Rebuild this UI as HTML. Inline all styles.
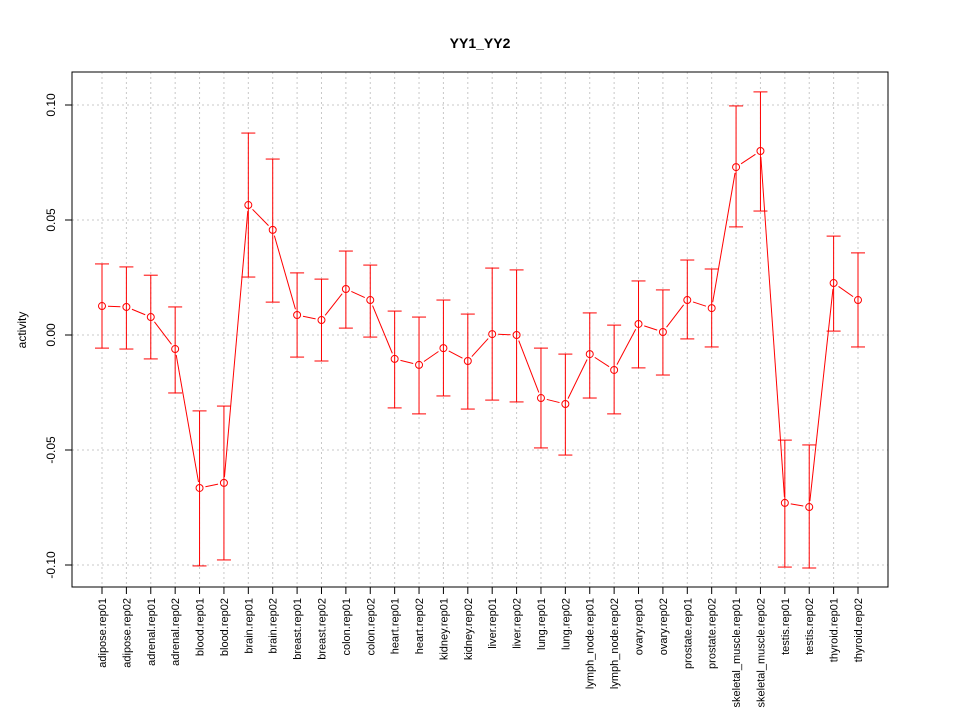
<!DOCTYPE html>
<html><head><meta charset="utf-8"><style>
body{margin:0;background:#fff;}
svg{display:block;font-family:"Liberation Sans",sans-serif;}
</style></head><body>
<svg id="chart" width="960" height="720">
<text x="480" y="48" text-anchor="middle" font-size="14" font-weight="bold">YY1_YY2</text>
<text transform="translate(26,330) rotate(-90)" text-anchor="middle" font-size="12">activity</text>
<g id="grid"></g><g id="axes"></g><g id="marks"></g>
<rect x="72" y="72" width="816" height="515" fill="none" stroke="#000" stroke-width="1"/>
</svg>
<script>
const categories=["adipose.rep01","adipose.rep02","adrenal.rep01","adrenal.rep02","blood.rep01","blood.rep02","brain.rep01","brain.rep02","breast.rep01","breast.rep02","colon.rep01","colon.rep02","heart.rep01","heart.rep02","kidney.rep01","kidney.rep02","liver.rep01","liver.rep02","lung.rep01","lung.rep02","lymph_node.rep01","lymph_node.rep02","ovary.rep01","ovary.rep02","prostate.rep01","prostate.rep02","skeletal_muscle.rep01","skeletal_muscle.rep02","testis.rep01","testis.rep02","thyroid.rep01","thyroid.rep02"];
const values=[0.0126,0.0122,0.0078,-0.0061,-0.0665,-0.0643,0.0565,0.0457,0.0087,0.0065,0.0200,0.0152,-0.0104,-0.0130,-0.0057,-0.0113,0.0004,0.0000,-0.0274,-0.0300,-0.0083,-0.0152,0.0048,0.0013,0.0152,0.0117,0.0730,0.0800,-0.0730,-0.0748,0.0226,0.0152];
const upper=[0.0309,0.0296,0.0260,0.0122,-0.0330,-0.0309,0.0878,0.0765,0.0270,0.0243,0.0365,0.0304,0.0104,0.0078,0.0152,0.0091,0.0291,0.0283,-0.0057,-0.0083,0.0096,0.0043,0.0235,0.0196,0.0326,0.0287,0.0996,0.1057,-0.0457,-0.0478,0.0430,0.0357];
const lower=[-0.0057,-0.0061,-0.0104,-0.0252,-0.1004,-0.0978,0.0252,0.0143,-0.0096,-0.0113,0.0030,-0.0009,-0.0317,-0.0343,-0.0265,-0.0322,-0.0283,-0.0291,-0.0491,-0.0522,-0.0274,-0.0343,-0.0143,-0.0174,-0.0017,-0.0052,0.0470,0.0539,-0.1009,-0.1013,0.0017,-0.0052];
const yTicks=[-0.10,-0.05,0.00,0.05,0.10];
const yTickLabels=["-0.10","-0.05","0.00","0.05","0.10"];
const NS="http://www.w3.org/2000/svg";
function y(v){return 335-2300*v;}
function x(i){return 102+i*(756/(categories.length-1));}
function mk(tag,attrs,parent){const e=document.createElementNS(NS,tag);for(const k in attrs)e.setAttribute(k,attrs[k]);parent.appendChild(e);return e;}
const grid=document.getElementById('grid'),axes=document.getElementById('axes'),marks=document.getElementById('marks');
yTicks.forEach((t,k)=>{
 const g=mk('line',{x1:72,x2:888,y1:y(t),y2:y(t),stroke:'#c8c8c8','stroke-dasharray':'2,3'},grid);
 
 
 const tk=mk('line',{x1:65,x2:72,y1:y(t),y2:y(t),stroke:'#000'},axes);
 
 
 const tl=mk('text',{transform:`translate(55,${y(t)}) rotate(-90)`,'text-anchor':'middle','font-size':12},axes);
 tl.textContent=yTickLabels[k];
 
 
});
mk('line',{x1:72,x2:72,y1:y(yTicks[0]),y2:y(yTicks[yTicks.length-1]),stroke:'#000'},axes);
categories.forEach((c,i)=>{
 const g=mk('line',{x1:x(i),x2:x(i),y1:72,y2:587,stroke:'#c8c8c8','stroke-dasharray':'2,3'},grid);
 
 
 const tk=mk('line',{x1:x(i),x2:x(i),y1:587,y2:594,stroke:'#000'},axes);
 
 
 const tl=mk('text',{transform:`translate(${x(i)+4},598) rotate(-90)`,'text-anchor':'end','font-size':11},axes);
 tl.textContent=c;
 
 
 const eb=mk('line',{x1:x(i),x2:x(i),y1:y(upper[i]),y2:y(lower[i]),stroke:'#f00'},marks);
 
 
 [upper[i],lower[i]].forEach(v=>{
  const cap=mk('line',{x1:x(i)-7,x2:x(i)+7,y1:y(v),y2:y(v),stroke:'#f00'},marks);
  
  
 });
 const pt=mk('circle',{cx:x(i),cy:y(values[i]),r:3.5,fill:'none',stroke:'#f00'},marks);
 
 
 if(i>0){
  const x0=x(i-1),y0=y(values[i-1]),x1=x(i),y1=y(values[i]);
  const dx=x1-x0,dy=y1-y0,L=Math.hypot(dx,dy),g=6;
  if(L>2*g){
   const seg=mk('line',{x1:x0+dx*g/L,y1:y0+dy*g/L,x2:x1-dx*g/L,y2:y1-dy*g/L,stroke:'#f00'},marks);
   
   
  }
 }
});
</script>
</body></html>
